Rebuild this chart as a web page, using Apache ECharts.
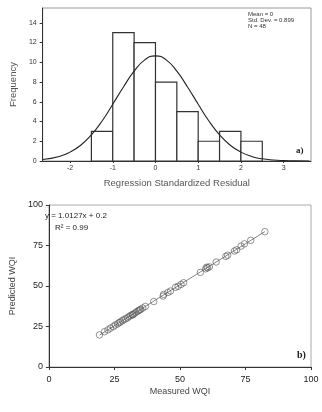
<!DOCTYPE html>
<html>
<head>
<meta charset="utf-8">
<script src="https://cdn.jsdelivr.net/npm/echarts@6/dist/echarts.min.js"></script>
<style>
  html, body { margin: 0; padding: 0; background: #fff; }
  #chart { width: 322px; height: 412px; }
</style>
</head>
<body>
<div id="chart"></div>
<script>
// a) histogram of residuals: [bin start, bin end, frequency]
const residualBins = [
  [-1.5, -1.0, 3], [-1.0, -0.5, 13], [-0.5, 0.0, 12], [0.0, 0.5, 8],
  [0.5, 1.0, 5], [1.0, 1.5, 2], [1.5, 2.0, 3], [2.0, 2.5, 2]
]
// normal curve
const curveX = [-2.64, -2.25, -2, -1.75, -1.5, -1.25, -1, -0.75, -0.5, -0.25, 0, 0.25, 0.5, 0.75, 1, 1.25, 1.5, 1.75, 2, 2.25, 2.5, 2.75, 3, 3.25, 3.6]
const curveY = [0.15, 0.46, 0.9, 1.6, 2.65, 4.05, 5.75, 7.5, 9.1, 10.25, 10.65, 10.25, 9.1, 7.5, 5.75, 4.05, 2.65, 1.6, 0.9, 0.46, 0.22, 0.1, 0.04, 0.01, 0]
const residualTicks = [-2, -1, 0, 1, 2, 3]
const freqTicks = [0, 2, 4, 6, 8, 10, 12, 14]

// b) measured vs predicted WQI
const measuredWQI = [19.3, 21.2, 22.5, 23.5, 24.6, 25.3, 26.2, 26.8, 27.3, 28.0, 28.6, 29.3, 30.0, 30.6, 31.2, 31.8, 32.0, 32.4, 33.0, 33.6, 34.2, 34.6, 35.0, 35.8, 36.8, 40.0, 43.6, 43.8, 45.4, 46.4, 48.3, 49.3, 50.4, 51.4, 57.8, 59.8, 60.2, 60.5, 61.2, 63.8, 67.5, 68.2, 70.8, 71.6, 73.3, 74.6, 77.0, 82.4]
const predictedWQI = [19.8, 21.8, 22.9, 24.0, 25.0, 25.9, 26.6, 27.4, 27.8, 28.6, 29.2, 29.8, 30.4, 31.2, 31.8, 32.3, 32.2, 32.8, 33.5, 34.2, 34.8, 35.2, 35.6, 36.4, 37.4, 40.4, 43.8, 44.8, 46.0, 46.9, 49.2, 49.8, 51.0, 52.0, 58.4, 60.6, 61.6, 61.2, 61.8, 64.8, 68.3, 69.0, 71.6, 72.3, 74.6, 76.0, 78.2, 83.5]
const fitLine = [[19.3, 19.7], [82.4, 83.6]]

const font = 'Liberation Sans'
const chart = echarts.init(document.getElementById('chart'))

const axisLine = { show: true, onZero: false, lineStyle: { color: '#333', width: 1 } }

chart.setOption({
  animation: false,
  grid: [
    { left: 40, right: 11, top: 8, height: 153, show: true, borderColor: '#999', borderWidth: 1 },
    { left: 40, right: 11, top: 205, height: 162, show: true, borderColor: '#aaa', borderWidth: 1 }
  ],
  xAxis: [
    {
      gridIndex: 0, type: 'value', min: -2.64, max: 3.64,
      name: 'Regression Standardized Residual', nameLocation: 'middle', nameGap: 17,
      nameTextStyle: { fontFamily: font, fontSize: 9.5, color: '#555' },
      axisLine: axisLine,
      axisTick: { show: true, length: 2, customValues: residualTicks, lineStyle: { color: '#333' } },
      axisLabel: { customValues: residualTicks, fontFamily: font, fontSize: 7, color: '#333', margin: 4 },
      splitLine: { show: false }
    },
    {
      gridIndex: 1, type: 'value', min: 0, max: 100, interval: 25,
      name: 'Measured WQI', nameLocation: 'middle', nameGap: 20,
      nameTextStyle: { fontFamily: font, fontSize: 9, color: '#444' },
      axisLine: axisLine,
      axisTick: { show: true, length: 3, lineStyle: { color: '#333' } },
      axisLabel: { fontFamily: font, fontSize: 9, color: '#222', margin: 8 },
      splitLine: { show: false }
    }
  ],
  yAxis: [
    {
      gridIndex: 0, type: 'value', min: 0, max: 15.5,
      name: 'Frequency', nameLocation: 'middle', nameGap: 21,
      nameTextStyle: { fontFamily: font, fontSize: 9.5, color: '#555' },
      axisLine: axisLine,
      axisTick: { show: true, length: 3, customValues: freqTicks, lineStyle: { color: '#333' } },
      axisLabel: { customValues: freqTicks, fontFamily: font, fontSize: 7, color: '#333', margin: 6 },
      splitLine: { show: false }
    },
    {
      gridIndex: 1, type: 'value', min: 0, max: 100, interval: 25,
      name: 'Predicted WQI', nameLocation: 'middle', nameGap: 26,
      nameTextStyle: { fontFamily: font, fontSize: 9, color: '#444' },
      axisLine: axisLine,
      axisTick: { show: true, length: 3, lineStyle: { color: '#333' } },
      axisLabel: { fontFamily: font, fontSize: 9, color: '#222', margin: 6 },
      splitLine: { show: false }
    }
  ],
  series: [
    {
      type: 'custom', xAxisIndex: 0, yAxisIndex: 0,
      data: residualBins,
      encode: { x: [0, 1], y: 2 },
      renderItem: function (params, api) {
        const s = api.coord([api.value(0), 0])
        const e = api.coord([api.value(1), api.value(2)])
        return {
          type: 'rect',
          shape: { x: s[0], y: e[1], width: e[0] - s[0], height: s[1] - e[1] },
          style: { fill: '#fff', stroke: '#333', lineWidth: 1.2 }
        }
      }
    },
    {
      type: 'line', xAxisIndex: 0, yAxisIndex: 0, z: 5,
      data: curveX.map((x, i) => [x, curveY[i]]),
      smooth: true, symbol: 'none',
      lineStyle: { color: '#222', width: 1.1 }
    },
    {
      type: 'line', xAxisIndex: 1, yAxisIndex: 1,
      data: fitLine, symbol: 'none',
      lineStyle: { color: '#666', width: 0.8 }
    },
    {
      type: 'scatter', xAxisIndex: 1, yAxisIndex: 1, z: 4,
      data: measuredWQI.map((x, i) => [x, predictedWQI[i]]),
      symbol: 'circle', symbolSize: 6.5,
      itemStyle: { color: 'rgba(255,255,255,0)', borderColor: '#555', borderWidth: 0.8 }
    }
  ],
  graphic: [
    {
      type: 'text', left: 248, top: 11,
      style: { text: 'Mean = 0\nStd. Dev. = 0.899\nN = 48', font: '6px "Liberation Sans"', lineHeight: 6, fill: '#333' }
    },
    { type: 'text', left: 296, top: 146, style: { text: 'a)', font: 'bold 9px "Liberation Serif"', fill: '#222' } },
    { type: 'text', left: 45, top: 212, style: { text: 'y = 1.0127x + 0.2', font: '8px "Liberation Sans"', fill: '#222' } },
    { type: 'text', left: 55, top: 224, style: { text: 'R² = 0.99', font: '8px "Liberation Sans"', fill: '#222' } },
    { type: 'text', left: 297, top: 350, style: { text: 'b)', font: 'bold 10px "Liberation Serif"', fill: '#222' } }
  ]
})
</script>
</body>
</html>
